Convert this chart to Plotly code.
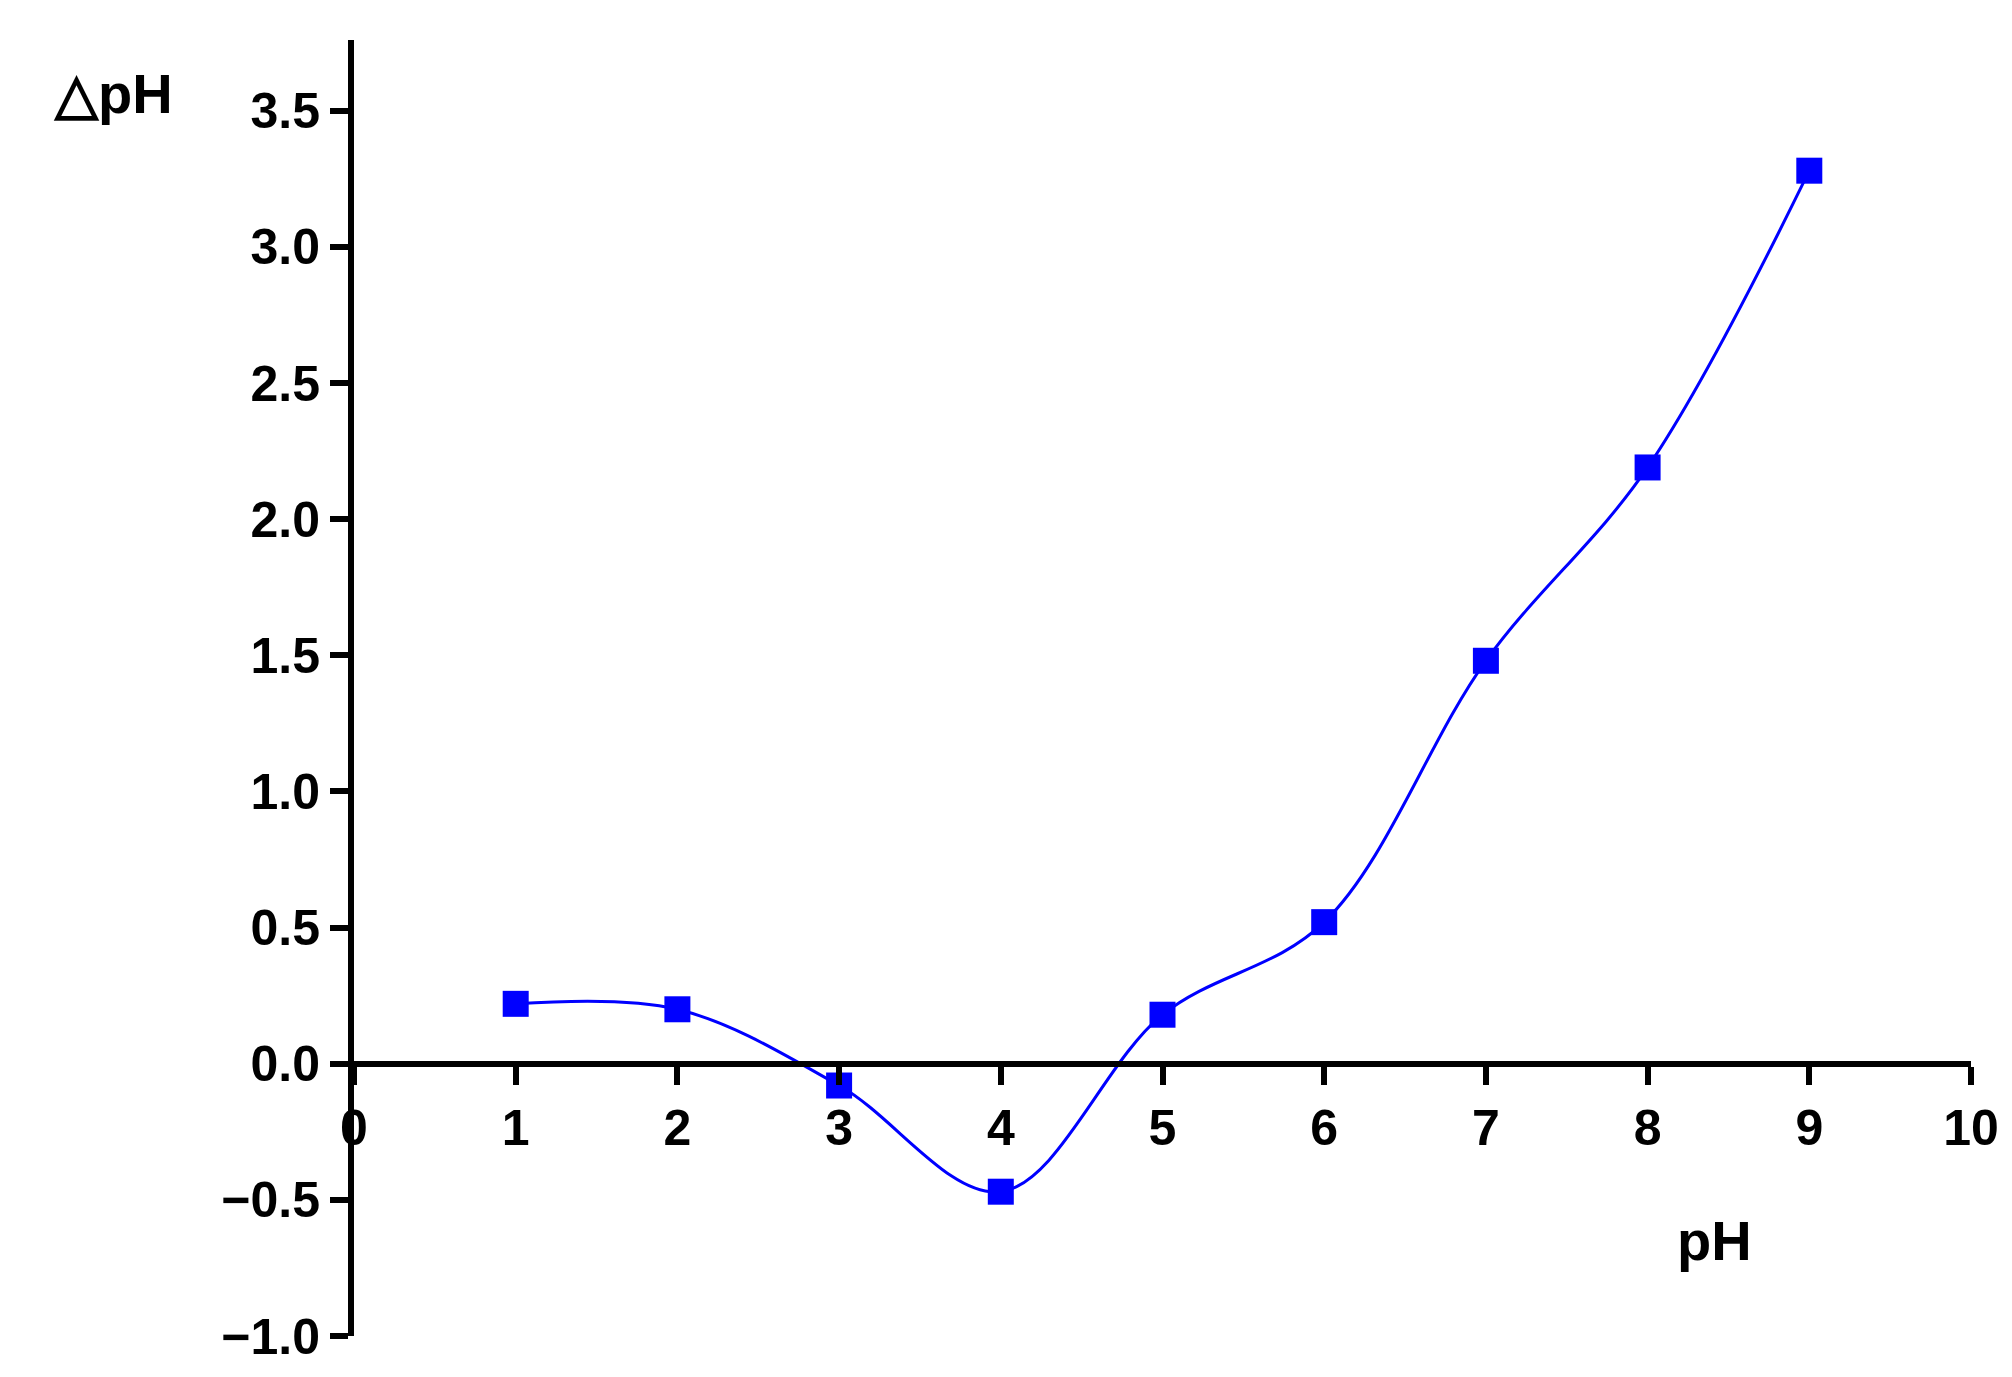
import plotly.graph_objects as go

ph = [1, 2, 3, 4, 5, 6, 7, 8, 9]
delta_ph = [0.22, 0.20, -0.08, -0.47, 0.18, 0.52, 1.48, 2.19, 3.28]

x_ticks = [0, 1, 2, 3, 4, 5, 6, 7, 8, 9, 10]
y_ticks = [-1.0, -0.5, 0.0, 0.5, 1.0, 1.5, 2.0, 2.5, 3.0, 3.5]

fig = go.Figure()
fig.add_trace(go.Scatter(
    x=ph, y=delta_ph, mode="lines+markers",
    line=dict(color="#0000ff", width=3, shape="spline", smoothing=1.0),
    marker=dict(symbol="square", size=26, color="#0000ff"),
    showlegend=False,
))

ymin, ymax = -1.0, 3.76
tick_font = dict(family="Arial, Liberation Sans", size=50, color="black")

fig.update_layout(
    width=2012, height=1377,
    margin=dict(l=346, r=49, t=32, b=49),
    paper_bgcolor="white", plot_bgcolor="white",
    xaxis=dict(
        range=[0, 10], tickvals=x_ticks, ticktext=["<b>%d</b>" % v for v in x_ticks],
        anchor="free", position=(0 - ymin) / (ymax - ymin),
        showline=True, linecolor="black", linewidth=6,
        ticks="outside", ticklen=18, tickwidth=6, tickcolor="black",
        showgrid=False, zeroline=False, tickfont=tick_font,
    ),
    yaxis=dict(
        range=[ymin, ymax], tickvals=y_ticks,
        ticktext=["<b>%s</b>" % ("%.1f" % v).replace("-", "\u2212") for v in y_ticks],
        showline=True, linecolor="black", linewidth=6,
        ticks="outside", ticklen=18, tickwidth=6, tickcolor="black",
        showgrid=False, zeroline=False, tickfont=tick_font,
    ),
    annotations=[
        dict(text="<b>\u25b3pH</b>", x=105, y=85, xref="paper", yref="paper",
             xanchor="center", yanchor="middle", showarrow=False,
             font=dict(family="Arial, Liberation Sans", size=56, color="black")),
        dict(text="<b>pH</b>", x=1706, y=1232, xref="paper", yref="paper",
             xanchor="center", yanchor="middle", showarrow=False,
             font=dict(family="Arial, Liberation Sans", size=56, color="black")),
    ],
)

# annotation positions given in pixels -> convert to paper fractions
pw, phh = 2012 - 346 - 49, 1377 - 32 - 49
for a in fig.layout.annotations:
    a.x = (a.x - 346) / pw
    a.y = (1377 - 49 - a.y) / phh

fig.write_html("out.html")
